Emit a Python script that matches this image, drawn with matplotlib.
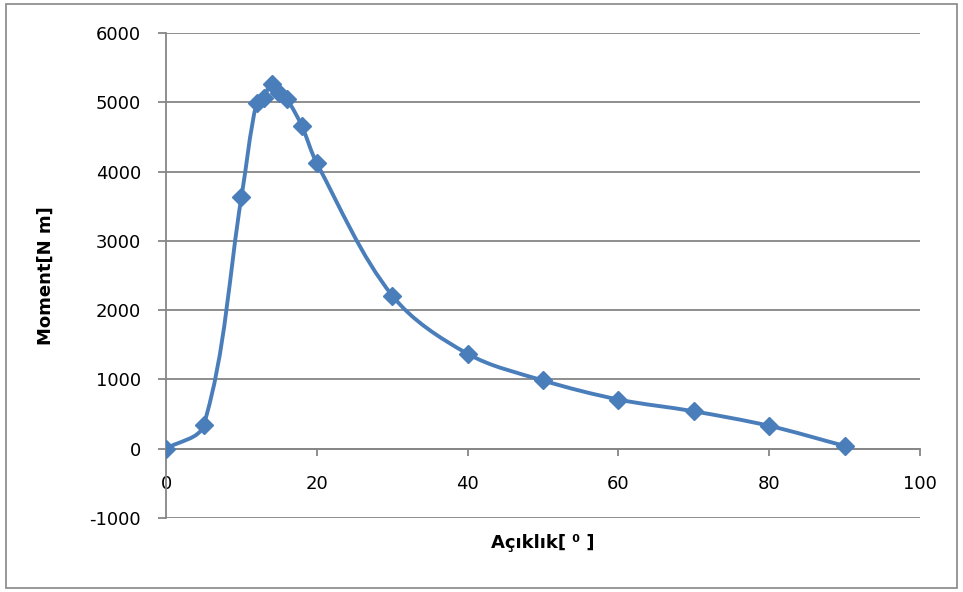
import numpy as np
import matplotlib.pyplot as plt
from matplotlib.path import Path
from matplotlib.patches import PathPatch, Rectangle

plt.rcParams['axes.unicode_minus'] = False

aciklik = [0, 5, 10, 12, 13, 14, 15, 16, 18, 20, 30, 40, 50, 60, 70, 80, 90]
moment = [0, 340, 3630, 4990, 5060, 5260, 5130, 5050, 4660, 4120,
          2210, 1370, 985, 710, 540, 330, 40]

renk = '#4A7EBB'
gri = '#868686'

fig = plt.figure(figsize=(9.63, 5.92), dpi=100)
ax = fig.add_axes([0.1724, 0.125, 0.7830, 0.8193])

# smoothed line like excel: bezier through the points, done in pixel units
sx, sy = 7.54, 0.0693
P = np.column_stack([np.array(aciklik) * sx, np.array(moment) * sy])
n = len(P)
tan = []
for i in range(n):
    d = P[min(i + 1, n - 1)] - P[max(i - 1, 0)]
    tan.append(d / np.hypot(*d))
verts = [tuple(P[0])]
codes = [Path.MOVETO]
for i in range(n - 1):
    L = np.hypot(*(P[i + 1] - P[i])) / 3
    verts += [tuple(P[i] + tan[i] * L), tuple(P[i + 1] - tan[i + 1] * L), tuple(P[i + 1])]
    codes += [Path.CURVE4] * 3
verts = [(vx / sx, vy / sy) for vx, vy in verts]
ax.add_patch(PathPatch(Path(verts, codes), facecolor='none', edgecolor=renk,
                       lw=2.8, zorder=3))
ax.plot(aciklik, moment, linestyle='none', marker='D', markersize=9.5,
        color=renk, zorder=4)

ax.set_xlim(0, 100)
ax.set_ylim(-1000, 6000)
ax.set_xticks(range(0, 101, 20))
ax.set_yticks(range(-1000, 6001, 1000))
ax.yaxis.grid(True, color=gri, lw=1.3)
ax.set_axisbelow(True)

for s in ['top', 'right']:
    ax.spines[s].set_visible(False)
ax.spines['bottom'].set_position(('data', 0))
ax.spines['bottom'].set_color(gri)
ax.spines['left'].set_color(gri)
ax.spines['bottom'].set_linewidth(1.3)
ax.spines['left'].set_linewidth(1.3)
ax.tick_params(axis='y', length=6, width=1.3, color=gri, pad=12, labelsize=13)
ax.tick_params(axis='x', length=5, width=1.3, color=gri, pad=14, labelsize=13)

ax.set_ylabel('Moment[N m]', fontsize=13, fontweight='bold', labelpad=25)
ax.set_xlabel('Açıklık[ ⁰ ]', fontsize=13, fontweight='bold')
ax.xaxis.set_label_coords(0.5, -0.033)

fig.patches.append(Rectangle((0.006, 0.006), 0.988, 0.988, transform=fig.transFigure,
                             fill=False, edgecolor=gri, lw=1.2))

plt.savefig('out.png', dpi=100)
